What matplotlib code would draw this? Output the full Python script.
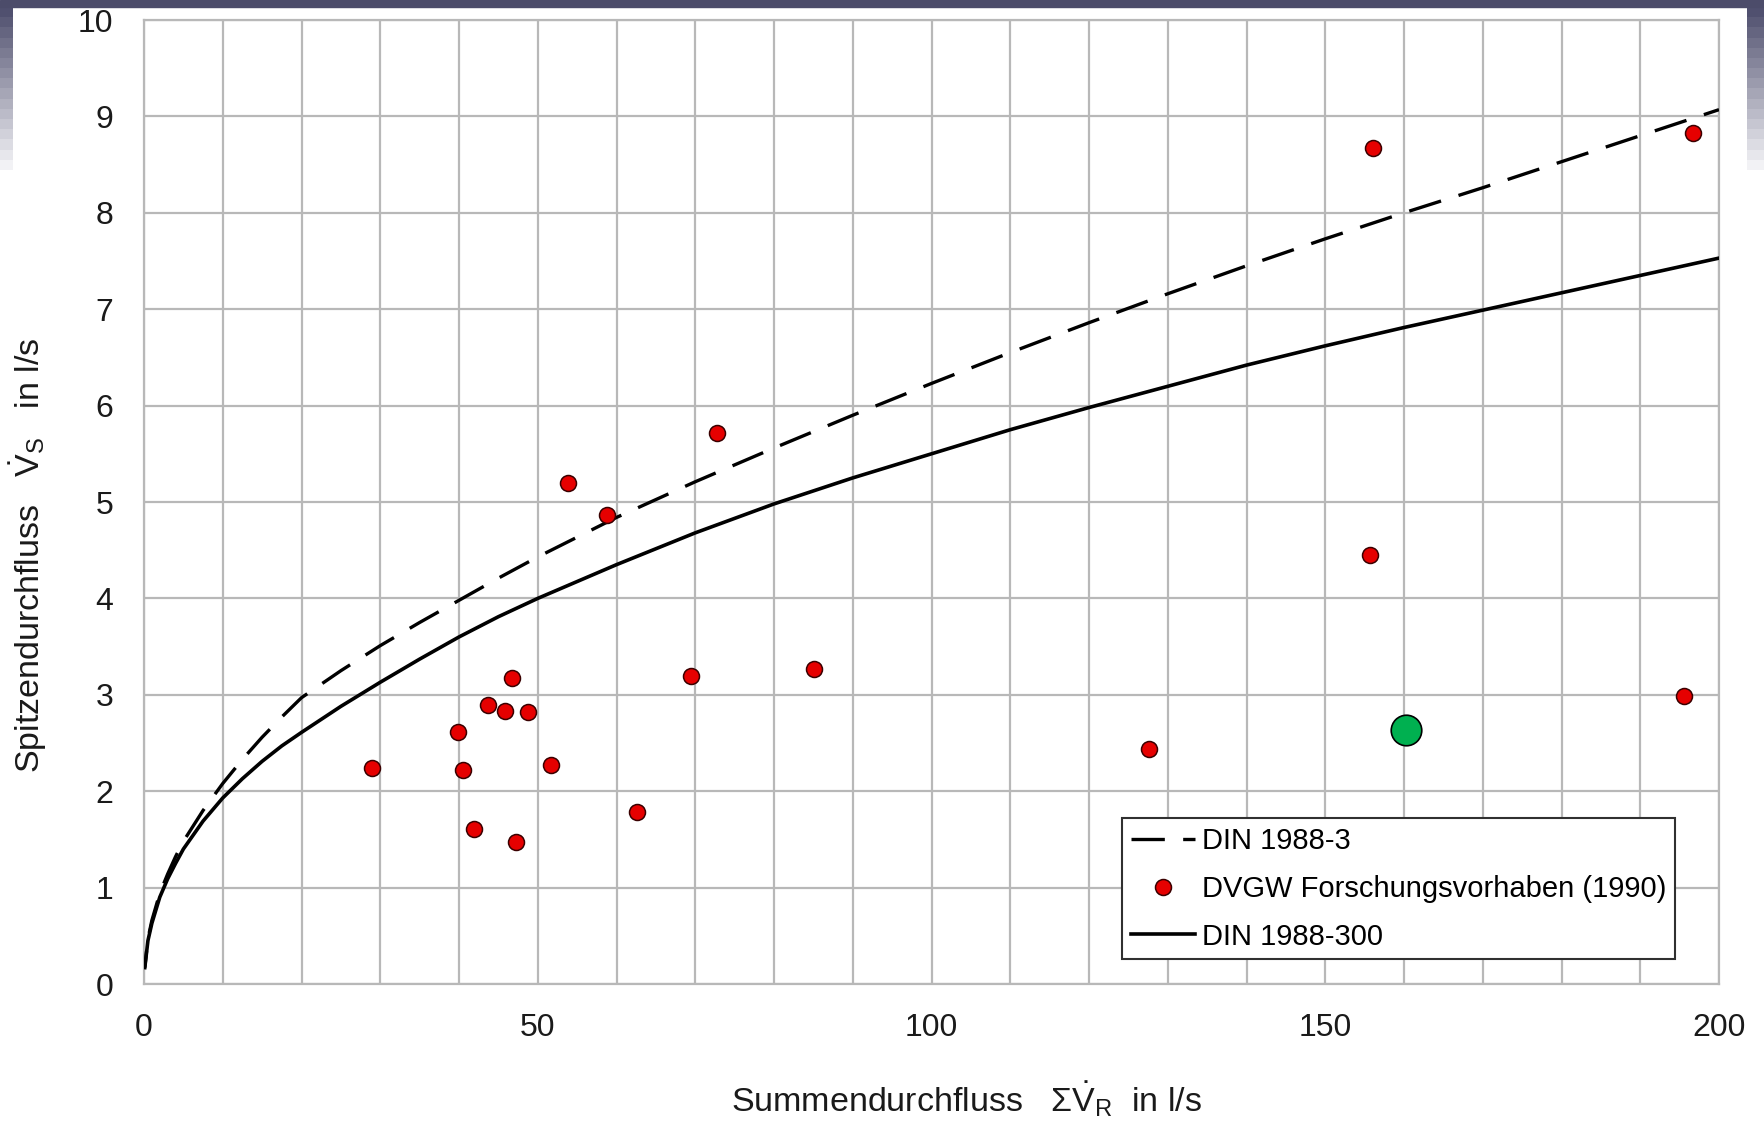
import numpy as np
import matplotlib
matplotlib.use("Agg")
import matplotlib.pyplot as plt
from matplotlib.colors import LinearSegmentedColormap

plt.rcParams['font.family'] = 'Liberation Sans'
plt.rcParams['mathtext.fontset'] = 'custom'
plt.rcParams['mathtext.rm'] = 'Liberation Sans'
plt.rcParams['mathtext.it'] = 'Liberation Sans'
plt.rcParams['mathtext.bf'] = 'Liberation Sans:bold'

# Summendurchfluss (l/s) at which the design curves are read
q_sum = [0.1, 0.5, 1, 2, 3, 4, 5, 7.5, 10, 12.5, 15, 17.5, 20, 25, 30, 35, 40, 45,
         50, 60, 70, 80, 90, 100, 110, 120, 130, 140, 150, 160, 170, 180, 190, 200]
# Spitzendurchfluss DIN 1988-3 (dashed)
din3 = [0.17, 0.47, 0.66, 0.94, 1.14, 1.32, 1.48, 1.80, 2.08, 2.33, 2.56, 2.77,
        2.97, 3.25, 3.51, 3.75, 3.98, 4.21, 4.43, 4.84, 5.21, 5.56, 5.90, 6.23,
        6.55, 6.86, 7.16, 7.45, 7.73, 8.00, 8.26, 8.53, 8.80, 9.07]
# Spitzendurchfluss DIN 1988-300 (solid)
din300 = [0.17, 0.45, 0.63, 0.90, 1.09, 1.25, 1.40, 1.69, 1.93, 2.13, 2.31, 2.47,
          2.61, 2.88, 3.13, 3.37, 3.60, 3.81, 4.00, 4.35, 4.68, 4.98, 5.25, 5.50,
          5.75, 5.98, 6.20, 6.42, 6.62, 6.81, 6.99, 7.17, 7.35, 7.53]

# measurements DVGW Forschungsvorhaben (1990)
dvgw_x = [29.0, 39.9, 40.5, 41.9, 43.7, 45.8, 46.7, 47.3, 48.7, 51.7, 53.8,
          58.8, 62.6, 69.4, 72.7, 85.1, 127.6, 155.7, 156.0, 195.6, 196.7]
dvgw_y = [2.24, 2.61, 2.22, 1.61, 2.89, 2.83, 3.17, 1.47, 2.82, 2.27, 5.20,
          4.86, 1.78, 3.19, 5.72, 3.27, 2.44, 4.45, 8.67, 2.99, 8.83]

# own object
obj_x = [160.2]
obj_y = [2.63]

xticks = [0, 50, 100, 150, 200]
yticks = list(range(0, 11))

W, H = 1764, 1122
fig = plt.figure(figsize=(W / 100., H / 100.), dpi=100)
fig.patch.set_facecolor('white')

# slide frame: dark band at top, fading strips at the sides
fig.patches.append(plt.Rectangle((0, 1 - 7. / H), 1, 7. / H, transform=fig.transFigure,
                                 color='#4c4c6a', zorder=0))
fade = LinearSegmentedColormap.from_list('fade', ['#50506f', '#f2f2f5'])
steps = np.linspace(0, 1, 16).reshape(-1, 1)
for x0, w in [(0, 13.), (1747., 17.)]:
    sa = fig.add_axes([x0 / W, 1 - 170. / H, w / W, 163. / H])
    sa.imshow(steps, cmap=fade, aspect='auto', interpolation='nearest')
    sa.axis('off')

ax = fig.add_axes([144. / W, 1 - 984. / H, (1719. - 144.) / W, (984. - 20.) / H])
grid_c = '#b8b8b8'

l3, = ax.plot(q_sum, din3, color='black', lw=2.4, ls=(5, (10, 5.5)),
              solid_joinstyle='round', label='DIN 1988-3', zorder=3)
sc, = ax.plot(dvgw_x, dvgw_y, ls='none', marker='o', ms=11.5, mfc='#e60000',
              mec='#3a0000', mew=1.1, label='DVGW Forschungsvorhaben (1990)', zorder=4)
l300, = ax.plot(q_sum, din300, color='black', lw=2.6, solid_joinstyle='round',
                label='DIN 1988-300', zorder=3)
ax.plot(obj_x, obj_y, ls='none', marker='o', ms=22, mfc='#00b050', mec='black',
        mew=1.2, zorder=5)

ax.set_xlim(0, 200)
ax.set_ylim(0, 10)
ax.set_xticks(xticks)
ax.set_xticks(np.arange(0, 201, 10), minor=True)
ax.set_yticks(yticks)
ax.grid(True, which='both', color=grid_c, lw=1.6)
ax.set_axisbelow(True)
ax.tick_params(which='both', length=0, labelsize=23, colors='#1a1a1a')
ax.tick_params(axis='x', pad=21)
ax.tick_params(axis='y', pad=22)
for s in ax.spines.values():
    s.set_color(grid_c)
    s.set_linewidth(1.6)

# legend uses the plain dash pattern so its sample reads "— -"
h3 = plt.Line2D([], [], color='black', lw=2.4, dashes=(10, 5.5))
leg = ax.legend(handles=[h3, sc, l300], labels=[l3.get_label(), sc.get_label(), l300.get_label()],
                loc='upper left', bbox_to_anchor=(0.621, 0.172),
                fontsize=21, frameon=True, fancybox=False, framealpha=1,
                edgecolor='#303030', handlelength=2.2, handletextpad=0.25,
                labelspacing=0.68, borderpad=0.3, borderaxespad=0)
leg.get_frame().set_linewidth(1.5)

fig.text(966. / W, 1 - 1099. / H,
         r'Summendurchfluss   $\Sigma\dot{\mathrm{V}}_{\mathrm{R}}$  in l/s',
         ha='center', va='center', fontsize=24.5, color='#1a1a1a')
fig.text(28. / W, 1 - 555. / H,
         r'Spitzendurchfluss   $\dot{\mathrm{V}}_{\mathrm{S}}$   in l/s',
         ha='center', va='center', rotation=90, fontsize=24.5, color='#1a1a1a')

fig.savefig('out.png', dpi=100)
